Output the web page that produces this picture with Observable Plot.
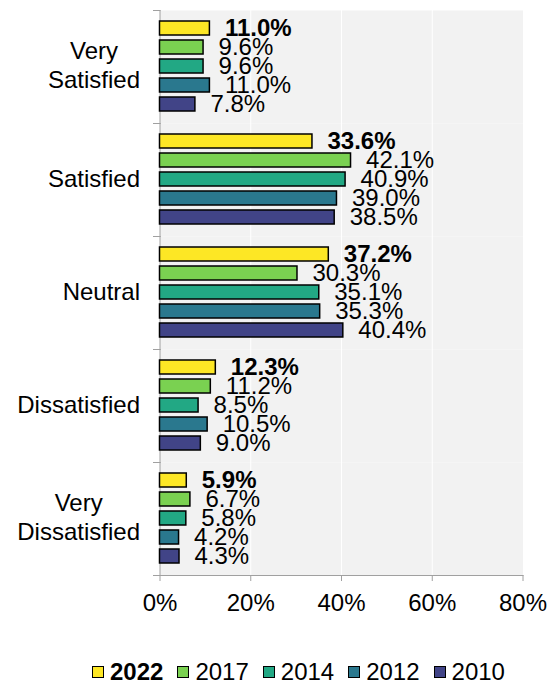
<!DOCTYPE html>
<html>
<head>
<meta charset="utf-8">
<script src="https://cdn.jsdelivr.net/npm/d3@7"></script>
<script src="https://cdn.jsdelivr.net/npm/@observablehq/plot@0.6"></script>
<style>
  html, body { margin: 0; padding: 0; background: white; }
  body { width: 559px; height: 686px; overflow: hidden; font-family: "Liberation Sans", Arial, sans-serif; }
  #legend { display: flex; align-items: center; margin-top: 33px; padding-left: 92px; height: 28px; font-size: 24px; }
  .item { display: flex; align-items: center; margin-right: 14px; }
  .sw { width: 12px; height: 12px; box-sizing: border-box; border: 1.5px solid #000; margin-right: 6px; }
</style>
</head>
<body>
<div id="chart"></div>
<div id="legend"></div>
<script>
const categories = ["Very Satisfied", "Satisfied", "Neutral", "Dissatisfied", "Very Dissatisfied"];
const years = ["2022", "2017", "2014", "2012", "2010"];
const v2022 = [11.0, 33.6, 37.2, 12.3, 5.9];
const v2017 = [9.6, 42.1, 30.3, 11.2, 6.7];
const v2014 = [9.6, 40.9, 35.1, 8.5, 5.8];
const v2012 = [11.0, 39.0, 35.3, 10.5, 4.2];
const v2010 = [7.8, 38.5, 40.4, 9.0, 4.3];
const colors = ["#FDE725", "#7AD151", "#22A884", "#2A788E", "#414487"];
const xTicks = [0, 20, 40, 60, 80];

const series = {"2022": v2022, "2017": v2017, "2014": v2014, "2012": v2012, "2010": v2010};
const data = [];
categories.forEach((c, i) => years.forEach(y => data.push({category: c, year: y, value: series[y][i]})));

const W = 559, H = 625, mL = 159.5, mR = 36.5, mT = 8, mB = 49;
const plotW = W - mL - mR;
const axisGray = "#a0a0a0";
const font = '"Liberation Sans", Arial, sans-serif';

const chart = Plot.plot({
  width: W, height: H,
  marginLeft: mL, marginRight: mR, marginTop: mT, marginBottom: mB,
  style: {fontFamily: font, fontSize: "24px", background: "white", overflow: "visible", color: "black"},
  x: {domain: [0, 80], axis: null},
  y: {domain: years, axis: null, paddingInner: 0.24, paddingOuter: 0.52},
  fy: {domain: categories, axis: null, padding: 0},
  color: {domain: years, range: colors},
  marks: [
    Plot.frame({fill: "#f2f2f2"}),
    Plot.gridX({ticks: [20, 40, 60], stroke: "white", strokeOpacity: 1, strokeWidth: 1}),
    Plot.frame({anchor: "top", stroke: axisGray, insetLeft: -6.5, insetRight: plotW}),
    Plot.frame({anchor: "left", stroke: axisGray}),
    Plot.frame({anchor: "bottom", stroke: axisGray, insetLeft: -6.5, fy: () => categories[categories.length - 1]}),
    Plot.barX(data, {x: "value", y: "year", fy: "category", fill: "year", stroke: "black", strokeWidth: 1.5}),
    Plot.text(data.filter(d => d.year !== "2022"), {x: "value", y: "year", fy: "category", text: d => d.value.toFixed(1) + "%", textAnchor: "start", dx: 15, fontSize: 24, fill: "black"}),
    Plot.text(data.filter(d => d.year === "2022"), {x: "value", y: "year", fy: "category", text: d => d.value.toFixed(1) + "%", textAnchor: "start", dx: 15, fontSize: 24, fontWeight: "bold", fill: "black"}),
    Plot.axisX({ticks: xTicks, tickFormat: d => d + "%", tickSize: 6, tickPadding: 12, stroke: axisGray, fill: "black", fontSize: 24, label: null}),
    Plot.axisFy({anchor: "left", tickSize: 0, tickPadding: 20, dy: -2.5, label: null, fontSize: 24, lineHeight: 1.17, fill: "black",
      tickFormat: d => d.startsWith("Very ") ? d.replace(" ", "\n") : d})
  ]
});
document.getElementById("chart").append(chart);

// center multi-line category labels within their block
chart.querySelectorAll('g[aria-label="fy-axis tick label"] text').forEach(t => {
  const spans = t.querySelectorAll("tspan");
  if (spans.length > 1) {
    let maxW = 0;
    spans.forEach(s => { maxW = Math.max(maxW, s.getComputedTextLength()); });
    t.setAttribute("text-anchor", "middle");
    spans.forEach(s => s.setAttribute("x", -maxW / 2));
  }
});

const legend = document.getElementById("legend");
years.forEach((y, i) => {
  const item = document.createElement("div");
  item.className = "item";
  const sw = document.createElement("div");
  sw.className = "sw";
  sw.style.background = colors[i];
  const lab = document.createElement("span");
  lab.textContent = y;
  if (y === "2022") lab.style.fontWeight = "bold";
  item.append(sw, lab);
  legend.append(item);
});
</script>
</body>
</html>
